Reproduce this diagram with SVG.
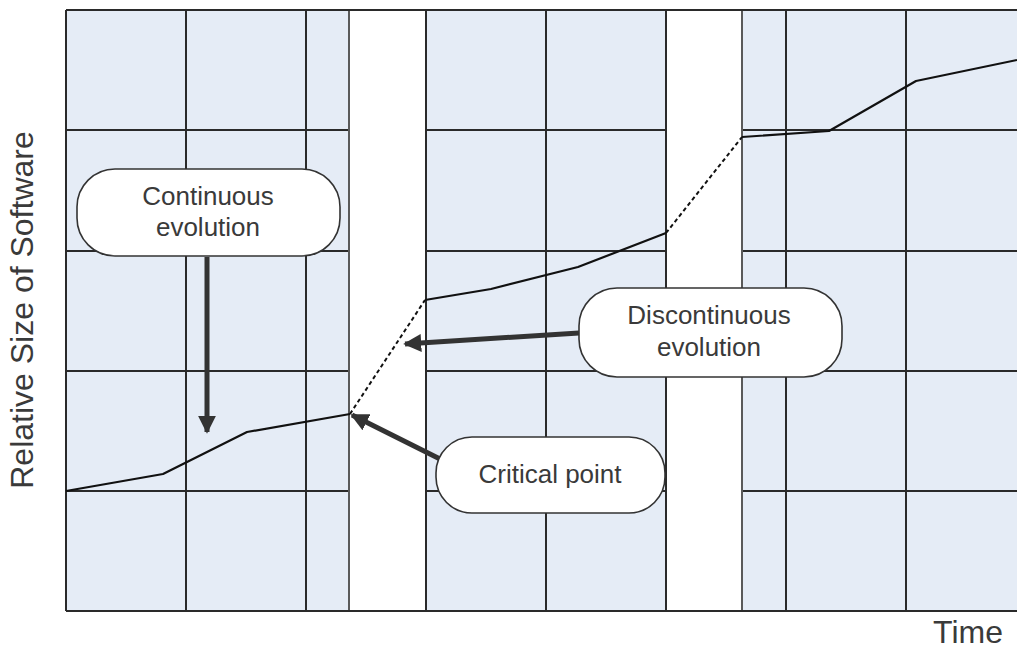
<svg xmlns="http://www.w3.org/2000/svg" width="1017" height="650" viewBox="0 0 1017 650">
<style>
.grid{stroke:#2a2a2a;stroke-width:2;fill:none}
.band{fill:#ffffff;stroke:#5a5a5a;stroke-width:2}
.curve{stroke:#111;stroke-width:2.2;fill:none;stroke-linejoin:round}
.dash{stroke:#111;stroke-width:2;fill:none;stroke-dasharray:4 3}
.box{fill:#ffffff;stroke:#333;stroke-width:1.6}
.lbl{font-family:"Liberation Sans",Arial,sans-serif;font-size:26px;fill:#3a3a3a;text-anchor:middle}
.axis{font-family:"Liberation Sans",Arial,sans-serif;font-size:32px;fill:#3a3a3a;text-anchor:middle}
.arrow{stroke:#333;stroke-width:5;fill:none}
</style>
<defs>
<marker id="ah" viewBox="0 0 10 10" refX="9" refY="5" markerWidth="3.6" markerHeight="3.6" markerUnits="strokeWidth" orient="auto">
<path d="M0,0 L10,5 L0,10 Z" fill="#333"/>
</marker>
</defs>
<rect width="1017" height="650" fill="#ffffff"/>
<g id="plot">
<rect x="66" y="10" width="960" height="601" fill="#e5ecf6"/>
<g class="grid">
<line x1="66" y1="130" x2="1017" y2="130"/>
<line x1="66" y1="251" x2="1017" y2="251"/>
<line x1="66" y1="371" x2="1017" y2="371"/>
<line x1="66" y1="491" x2="1017" y2="491"/>
<line x1="186" y1="10" x2="186" y2="611"/>
<line x1="306" y1="10" x2="306" y2="611"/>
<line x1="546" y1="10" x2="546" y2="611"/>
<line x1="786" y1="10" x2="786" y2="611"/>
<line x1="906" y1="10" x2="906" y2="611"/>
</g>
<rect class="band" x="349" y="10" width="77" height="601"/>
<rect class="band" x="666" y="10" width="76" height="601"/>
<g class="grid">
<line x1="426" y1="10" x2="426" y2="611"/>
<line x1="666" y1="10" x2="666" y2="611"/>
<line x1="66" y1="10" x2="1017" y2="10"/>
<line x1="66" y1="611" x2="1017" y2="611"/>
<line x1="66" y1="10" x2="66" y2="611"/>
</g>
</g>
<g id="curve">
<polyline class="curve" points="66,491 163,474 247,432 350,414"/>
<line class="dash" x1="350" y1="414" x2="425" y2="300"/>
<polyline class="curve" points="425,300 491,289 578,267 666,233"/>
<line class="dash" x1="666" y1="233" x2="742" y2="137"/>
<polyline class="curve" points="742,137 829,131 916,81 1017,60"/>
</g>
<g id="connectors">
<line class="arrow" x1="207" y1="257" x2="207" y2="432" marker-end="url(#ah)"/>
<line class="arrow" x1="579" y1="333" x2="405" y2="344" marker-end="url(#ah)"/>
<line class="arrow" x1="442" y1="460" x2="352" y2="415" marker-end="url(#ah)"/>
</g>
<g id="continuous">
<rect class="box" x="77" y="169" width="263" height="87" rx="38" ry="38"/>
<text class="lbl" x="208" y="205">Continuous</text>
<text class="lbl" x="208" y="236">evolution</text>
</g>
<g id="discontinuous">
<rect class="box" x="579" y="288" width="263" height="89" rx="38" ry="38"/>
<text class="lbl" x="709" y="324">Discontinuous</text>
<text class="lbl" x="709" y="356">evolution</text>
</g>
<g id="critical">
<rect class="box" x="436" y="437" width="229" height="76" rx="36" ry="36"/>
<text class="lbl" x="550" y="483">Critical point</text>
</g>
<text class="axis" x="968" y="643" font-size="31">Time</text>
<text class="axis" transform="translate(33,310) rotate(-90)" x="0" y="0">Relative Size of Software</text>
</svg>
